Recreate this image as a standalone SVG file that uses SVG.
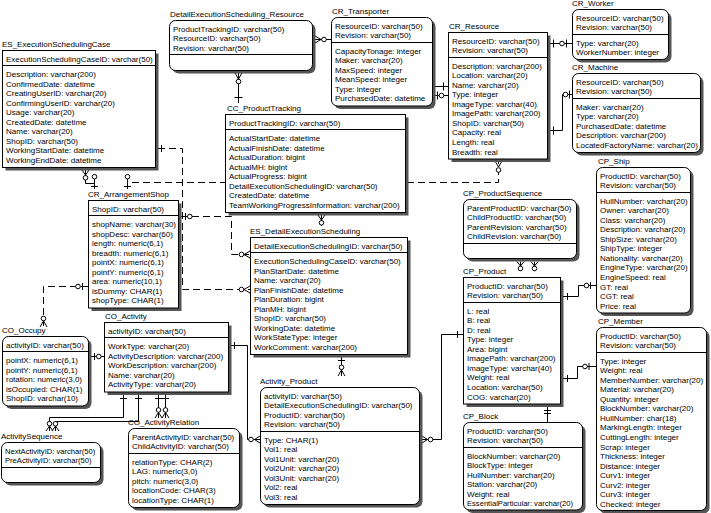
<svg xmlns="http://www.w3.org/2000/svg" width="711" height="513" viewBox="0 0 711 513">
<style>
text{font-family:"Liberation Sans",Arial,sans-serif;font-size:8px;fill:#000}
.bx{fill:#fff;stroke:#000;stroke-width:1}
.sh{fill:#555}
.sp{stroke:#000;stroke-width:1}
.ln{fill:none;stroke:#000;stroke-width:1}
.ds{stroke-dasharray:7,4}
.ci{fill:#fff;stroke:#000;stroke-width:1}
.sm{font-size:7.6px}
</style>
<rect width="711" height="513" fill="#fff"/>

<g id="connectors">
  <!-- DetailExecutionScheduling_Resource to CR_Resource -->
  <path class="ln" d="M315,39.5 H390 V86.5 H448 M315,36 L321,39.5 L315,43 M443.5,82.5 V90.5"/>
  <circle class="ci" cx="324" cy="39.5" r="2.3"/>
  <!-- CR_Transporter to CR_Resource -->
  <path class="ln" d="M435,95.5 H448 M437.5,91.5 V99.5"/>
  <circle class="ci" cx="441.5" cy="95.5" r="2.3"/>
  <!-- DetailExecutionScheduling_Resource to CC_ProductTracking -->
  <path class="ln" d="M238.5,73 V103 M235,73 L238.5,79 L242,73 M234.5,97.5 H242.5"/>
  <circle class="ci" cx="238.5" cy="81.5" r="2.3"/>
  <!-- CR_Resource to CR_Worker -->
  <path class="ln" d="M550,43.5 H572 M553.5,39.5 V47.5 M566.5,39.5 V47.5"/>
  <circle class="ci" cx="562" cy="43.5" r="2.3"/>
  <!-- CR_Resource to CR_Machine -->
  <path class="ln" d="M550,130.5 H562.5 V94.5 H572 M553.5,126.5 V134.5 M569.5,90.5 V98.5"/>
  <circle class="ci" cx="565.5" cy="94.5" r="2.3"/>
  <!-- CR_ArrangementShop to CR_Resource -->
  <path class="ln ds" d="M127.5,189 V182.5 H498.5 V161"/>
  <path class="ln" d="M495,161 L498.5,167 L502,161 M127.5,179 V182.5 M124,186.5 H131"/>
  <circle class="ci" cx="498.5" cy="170" r="2.3"/>
  <circle class="ci" cx="127.5" cy="176.7" r="2.3"/>
  <!-- CR_ArrangementShop to ES_ExecutionSchedulingCase -->
  <path class="ln" d="M85.5,170 V183.5 H94.5 V189 M82,170 L85.5,175 L89,170 M94.5,179 V183.5 M91,186.5 H98"/>
  <circle class="ci" cx="85.5" cy="177.8" r="2.3"/>
  <circle class="ci" cx="94.5" cy="176.7" r="2.3"/>
  <!-- CR_ArrangementShop to ES_DetailExecutionScheduling -->
  <path class="ln ds" d="M181,216.5 H231.5 V254.5 H250"/>
  <path class="ln" d="M185.5,213 V220 M250,251 L244,254.5 L250,258"/>
  <circle class="ci" cx="189.8" cy="216.5" r="2.3"/>
  <circle class="ci" cx="241.5" cy="254.5" r="2.3"/>
  <!-- ES_ExecutionSchedulingCase to ES_DetailExecutionScheduling -->
  <path class="ln ds" d="M158,148.5 H182.5 V289.5 H250"/>
  <path class="ln" d="M161.5,145 V152 M250,286 L244,289.5 L250,293"/>
  <circle class="ci" cx="241.5" cy="289.5" r="2.3"/>
  <!-- ES_DetailExecutionScheduling to CC_ProductTracking -->
  <path class="ln" d="M321.5,215 V226 M318,215 L321.5,220 L325,215"/>
  <circle class="ci" cx="321.5" cy="222.8" r="2.3"/>
  <!-- ES_DetailExecutionScheduling to Activity_Product -->
  <path class="ln" d="M341.5,357 V376 M338,360.5 H345 M338,376 L341.5,370 L345,376"/>
  <circle class="ci" cx="341.5" cy="367.3" r="2.3"/>
  <!-- CO_Activity to Activity_Product -->
  <path class="ln" d="M231,345.5 H247.5 V439.5 H260 M234.5,342 V349 M260,436 L254.5,439.5 L260,443"/>
  <circle class="ci" cx="251" cy="439.5" r="2.3"/>
  <!-- CP_Product to Activity_Product -->
  <path class="ln" d="M422,439.5 H441.5 V334.5 H463 M422,436 L427.5,439.5 L422,443 M457.5,331 V338"/>
  <circle class="ci" cx="430.5" cy="439.5" r="2.3"/>
  <!-- CP_Product to CP_ProductSequence -->
  <path class="ln" d="M520.5,261.5 V271 M517,261.5 L520.5,266 L524,261.5 M534.5,261.5 V271 M531,261.5 L534.5,266 L538,261.5"/>
  <circle class="ci" cx="520.5" cy="268.5" r="2.3"/>
  <circle class="ci" cx="534.5" cy="268.5" r="2.3"/>
  <!-- CP_Product to CP_Ship -->
  <path class="ln" d="M563,296.5 H578.5 V285.5 H596 M567.5,293 V300 M590.5,282 V289"/>
  <circle class="ci" cx="586.5" cy="285.5" r="2.3"/>
  <!-- CP_Product to CP_Member -->
  <path class="ln" d="M563,378.5 H577.5 V366.5 H596 M567.5,375 V382 M589,363 V370"/>
  <circle class="ci" cx="585" cy="366.5" r="2.3"/>
  <!-- CP_Product to CP_Block -->
  <path class="ln" d="M547.5,406.5 V422 M544,410.5 H551 M544,413.5 H551"/>
  <!-- CR_ArrangementShop to CO_Occupy -->
  <path class="ln ds" d="M88,286.5 H43.5 V327"/>
  <path class="ln" d="M82.5,283 V290 M40,327 L43.5,321 L47,327"/>
  <circle class="ci" cx="78" cy="286.5" r="2.3"/>
  <circle class="ci" cx="43.5" cy="318.5" r="2.3"/>
  <!-- CO_Activity to CO_Occupy -->
  <path class="ln" d="M91,356.5 H104 M94.5,353 V360"/>
  <circle class="ci" cx="98.8" cy="356.5" r="2.3"/>
  <!-- CO_Activity to ActivitySequence -->
  <path class="ln" d="M123.5,394.5 V417.5 H49.5 V431 M120,398.5 H127 M46,431 L49.5,426 L53,431"/>
  <path class="ln" d="M138.5,394.5 V421.5 H55.5 V431 M135,398.5 H142 M52,431 L55.5,426 L59,431"/>
  <circle class="ci" cx="49.5" cy="423.6" r="2.3"/>
  <circle class="ci" cx="55.5" cy="423.8" r="2.3"/>
  <!-- CO_Activity to CO_ActivityRelation -->
  <path class="ln" d="M158.5,394.5 V418 M155,398.5 H162 M155,418 L158.5,412.5 L162,418"/>
  <path class="ln" d="M165.5,394.5 V418 M162,398.5 H169 M162,418 L165.5,412.5 L169,418"/>
  <circle class="ci" cx="158.5" cy="410" r="2.3"/>
  <circle class="ci" cx="165.5" cy="410" r="2.3"/>
</g>

<g id="ES_ExecutionSchedulingCase" transform="translate(2,50)">
  <text x="0" y="-3">ES_ExecutionSchedulingCase</text>
  <rect class="sh" x="3.5" y="3.5" width="153" height="117"/>
  <rect class="bx" x="0.5" y="0.5" width="153" height="117"/>
  <line class="sp" x1="0.5" y1="15.5" x2="153.5" y2="15.5"/>
  <text x="4" y="11.5">ExecutionSchedulingCaseID: varchar(50)</text>
  <text x="4" y="27.05">Description: varchar(200)</text>
  <text x="4" y="36.6">ConfirmedDate: datetime</text>
  <text x="4" y="46.15">CreatingUserID: varchar(20)</text>
  <text x="4" y="55.7">ConfirmingUserID: varchar(20)</text>
  <text x="4" y="65.25">Usage: varchar(20)</text>
  <text x="4" y="74.8">CreatedDate: datetime</text>
  <text x="4" y="84.35">Name: varchar(20)</text>
  <text x="4" y="93.9">ShopID: varchar(50)</text>
  <text x="4" y="103.45">WorkingStartDate: datetime</text>
  <text x="4" y="113">WorkingEndDate: datetime</text>
</g>

<g id="DetailExecutionScheduling_Resource" transform="translate(169,20)">
  <text x="1" y="-3">DetailExecutionScheduling_Resource</text>
  <rect class="sh" x="3.5" y="3.5" width="143" height="50" rx="6"/>
  <rect class="bx" x="0.5" y="0.5" width="143" height="50" rx="6"/>
  <line class="sp" x1="0.5" y1="34.5" x2="143.5" y2="34.5"/>
  <text x="4" y="11.5">ProductTrackingID: varchar(50)</text>
  <text x="4" y="21.05">ResourceID: varchar(50)</text>
  <text x="4" y="30.6">Revision: varchar(50)</text>
</g>

<g id="CR_Transporter" transform="translate(331,17)">
  <text x="1" y="-3">CR_Transporter</text>
  <rect class="sh" x="3.5" y="3.5" width="101" height="88.5" rx="6"/>
  <rect class="bx" x="0.5" y="0.5" width="101" height="88.5" rx="6"/>
  <line class="sp" x1="0.5" y1="25.5" x2="101.5" y2="25.5"/>
  <text x="4" y="11.5">ResourceID: varchar(50)</text>
  <text x="4" y="21.05">Revision: varchar(50)</text>
  <text x="4" y="36.6">CapacityTonage: integer</text>
  <text x="4" y="46.15">Maker: varchar(20)</text>
  <text x="4" y="55.7">MaxSpeed: integer</text>
  <text x="4" y="65.25">MeanSpeed: integer</text>
  <text x="4" y="74.8">Type: integer</text>
  <text x="4" y="84.35">PurchasedDate: datetime</text>
</g>

<g id="CR_Resource" transform="translate(448,32)">
  <text x="1" y="-3">CR_Resource</text>
  <rect class="sh" x="3.5" y="3.5" width="99" height="126.5"/>
  <rect class="bx" x="0.5" y="0.5" width="99" height="126.5"/>
  <line class="sp" x1="0.5" y1="25.5" x2="99.5" y2="25.5"/>
  <text x="4" y="11.5">ResourceID: varchar(50)</text>
  <text x="4" y="21.05">Revision: varchar(50)</text>
  <text x="4" y="36.6">Description: varchar(200)</text>
  <text x="4" y="46.15">Location: varchar(20)</text>
  <text x="4" y="55.7">Name: varchar(20)</text>
  <text x="4" y="65.25">Type: integer</text>
  <text x="4" y="74.8">ImageType: varchar(40)</text>
  <text x="4" y="84.35">ImagePath: varchar(200)</text>
  <text x="4" y="93.9">ShopID: varchar(50)</text>
  <text x="4" y="103.45">Capacity: real</text>
  <text x="4" y="113">Length: real</text>
  <text x="4" y="122.55">Breadth: real</text>
</g>

<g id="CR_Worker" transform="translate(572,9)">
  <text x="0" y="-3">CR_Worker</text>
  <rect class="sh" x="3.5" y="3.5" width="96" height="50" rx="6"/>
  <rect class="bx" x="0.5" y="0.5" width="96" height="50" rx="6"/>
  <line class="sp" x1="0.5" y1="25.5" x2="96.5" y2="25.5"/>
  <text x="4" y="11.5">ResourceID: varchar(50)</text>
  <text x="4" y="21.05">Revision: varchar(50)</text>
  <text x="4" y="36.6">Type: varchar(20)</text>
  <text x="4" y="46.15">WorkerNumber: integer</text>
</g>

<g id="CR_Machine" transform="translate(572,73)">
  <text x="0" y="-3">CR_Machine</text>
  <rect class="sh" x="3.5" y="3.5" width="128" height="79" rx="6"/>
  <rect class="bx" x="0.5" y="0.5" width="128" height="79" rx="6"/>
  <line class="sp" x1="0.5" y1="25.5" x2="128.5" y2="25.5"/>
  <text x="4" y="11.5">ResourceID: varchar(50)</text>
  <text x="4" y="21.05">Revision: varchar(50)</text>
  <text x="4" y="36.6">Maker: varchar(20)</text>
  <text x="4" y="46.15">Type: varchar(20)</text>
  <text x="4" y="55.7">PurchasedDate: datetime</text>
  <text x="4" y="65.25">Description: varchar(200)</text>
  <text x="4" y="74.8">LocatedFactoryName: varchar(20)</text>
</g>

<g id="CC_ProductTracking" transform="translate(225,114)">
  <text x="2" y="-3">CC_ProductTracking</text>
  <rect class="sh" x="3.5" y="3.5" width="180" height="98"/>
  <rect class="bx" x="0.5" y="0.5" width="180" height="98"/>
  <line class="sp" x1="0.5" y1="15.5" x2="180.5" y2="15.5"/>
  <text x="4" y="11.5">ProductTrackingID: varchar(50)</text>
  <text x="4" y="27.05">ActualStartDate: datetime</text>
  <text x="4" y="36.6">ActualFinishDate: datetime</text>
  <text x="4" y="46.15">ActualDuration: bigint</text>
  <text x="4" y="55.7">ActualMH: bigint</text>
  <text x="4" y="65.25">ActualProgress: bigint</text>
  <text x="4" y="74.8">DetailExecutionSchedulingID: varchar(50)</text>
  <text x="4" y="84.35">CreatedDate: datetime</text>
  <text x="4" y="93.9">TeamWorkingProgressInformation: varchar(200)</text>
</g>

<g id="CR_ArrangementShop" transform="translate(88,200)">
  <text x="0" y="-3">CR_ArrangementShop</text>
  <rect class="sh" x="3.5" y="3.5" width="90" height="107.5"/>
  <rect class="bx" x="0.5" y="0.5" width="90" height="107.5"/>
  <line class="sp" x1="0.5" y1="15.5" x2="90.5" y2="15.5"/>
  <text x="4" y="11.5">ShopID: varchar(50)</text>
  <text x="4" y="27.05">shopName: varchar(30)</text>
  <text x="4" y="36.6">shopDesc: varchar(60)</text>
  <text x="4" y="46.15">length: numeric(6,1)</text>
  <text x="4" y="55.7">breadth: numeric(6,1)</text>
  <text x="4" y="65.25">pointX: numeric(6,1)</text>
  <text x="4" y="74.8">pointY: numeric(6,1)</text>
  <text x="4" y="84.35">area: numeric(10,1)</text>
  <text x="4" y="93.9">isDummy: CHAR(1)</text>
  <text x="4" y="103.45">shopType: CHAR(1)</text>
</g>

<g id="ES_DetailExecutionScheduling" transform="translate(250,237)">
  <text x="0" y="-3">ES_DetailExecutionScheduling</text>
  <rect class="sh" x="3.5" y="3.5" width="157" height="117"/>
  <rect class="bx" x="0.5" y="0.5" width="157" height="117"/>
  <line class="sp" x1="0.5" y1="15.5" x2="157.5" y2="15.5"/>
  <text x="4" y="11.5">DetailExecutionSchedulingID: varchar(50)</text>
  <text x="4" y="27.05">ExecutionSchedulingCaseID: varchar(50)</text>
  <text x="4" y="36.6">PlanStartDate: datetime</text>
  <text x="4" y="46.15">Name: varchar(20)</text>
  <text x="4" y="55.7">PlanFinishDate: datetime</text>
  <text x="4" y="65.25">PlanDuration: bigint</text>
  <text x="4" y="74.8">PlanMH: bigint</text>
  <text x="4" y="84.35">ShopID: varchar(50)</text>
  <text x="4" y="93.9">WorkingDate: datetime</text>
  <text x="4" y="103.45">WorkStateType: integer</text>
  <text x="4" y="113">WorkComment: varchar(200)</text>
</g>

<g id="CP_ProductSequence" transform="translate(463,199)">
  <text x="0" y="-3">CP_ProductSequence</text>
  <rect class="sh" x="3.5" y="3.5" width="113" height="59" rx="6"/>
  <rect class="bx" x="0.5" y="0.5" width="113" height="59" rx="6"/>
  <line class="sp" x1="0.5" y1="44.5" x2="113.5" y2="44.5"/>
  <text x="4" y="11.5">ParentProductID: varchar(50)</text>
  <text x="4" y="21.05">ChildProductID: varchar(50)</text>
  <text x="4" y="30.6">ParentRevision: varchar(50)</text>
  <text x="4" y="40.15">ChildRevision: varchar(50)</text>
</g>

<g id="CP_Product" transform="translate(463,277)">
  <text x="0" y="-3">CP_Product</text>
  <rect class="sh" x="3.5" y="3.5" width="97" height="126.5"/>
  <rect class="bx" x="0.5" y="0.5" width="97" height="126.5"/>
  <line class="sp" x1="0.5" y1="25.5" x2="97.5" y2="25.5"/>
  <text x="4" y="11.5">ProductID: varchar(50)</text>
  <text x="4" y="21.05">Revision: varchar(50)</text>
  <text x="4" y="36.6">L: real</text>
  <text x="4" y="46.15">B: real</text>
  <text x="4" y="55.7">D: real</text>
  <text x="4" y="65.25">Type: integer</text>
  <text x="4" y="74.8">Area: bigint</text>
  <text x="4" y="84.35">ImagePath: varchar(200)</text>
  <text x="4" y="93.9">ImageType: varchar(40)</text>
  <text x="4" y="103.45">Weight: real</text>
  <text x="4" y="113">Location: varchar(50)</text>
  <text x="4" y="122.55">COG: varchar(20)</text>
</g>

<g id="CP_Ship" transform="translate(596,167)">
  <text x="2" y="-3">CP_Ship</text>
  <rect class="sh" x="3.5" y="3.5" width="94" height="145.5" rx="6"/>
  <rect class="bx" x="0.5" y="0.5" width="94" height="145.5" rx="6"/>
  <line class="sp" x1="0.5" y1="25.5" x2="94.5" y2="25.5"/>
  <text x="4" y="11.5">ProductID: varchar(50)</text>
  <text x="4" y="21.05">Revision: varchar(50)</text>
  <text x="4" y="36.6">HullNumber: varchar(20)</text>
  <text x="4" y="46.15">Owner: varchar(20)</text>
  <text x="4" y="55.7">Class: varchar(20)</text>
  <text x="4" y="65.25">Description: varchar(20)</text>
  <text x="4" y="74.8">ShipSize: varchar(20)</text>
  <text x="4" y="84.35">ShipType: integer</text>
  <text x="4" y="93.9">Nationality: varchar(20)</text>
  <text x="4" y="103.45">EngineType: varchar(20)</text>
  <text x="4" y="113">EngineSpeed: real</text>
  <text x="4" y="122.55">GT: real</text>
  <text x="4" y="132.1">CGT: real</text>
  <text x="4" y="141.65">Price: real</text>
</g>

<g id="CP_Member" transform="translate(596,327)">
  <text x="2" y="-3">CP_Member</text>
  <rect class="sh" x="3.5" y="3.5" width="110" height="183" rx="6"/>
  <rect class="bx" x="0.5" y="0.5" width="110" height="183" rx="6"/>
  <line class="sp" x1="0.5" y1="25.5" x2="110.5" y2="25.5"/>
  <text x="4" y="11.5">ProductID: varchar(50)</text>
  <text x="4" y="21.05">Revision: varchar(50)</text>
  <text x="4" y="36.6">Type: integer</text>
  <text x="4" y="46.15">Weight: real</text>
  <text x="4" y="55.7">MemberNumber: varchar(20)</text>
  <text x="4" y="65.25">Material: varchar(20)</text>
  <text x="4" y="74.8">Quantity: integer</text>
  <text x="4" y="84.35">BlockNumber: varchar(20)</text>
  <text x="4" y="93.9">HullNumber: char(18)</text>
  <text x="4" y="103.45">MarkingLength: integer</text>
  <text x="4" y="113">CuttingLength: integer</text>
  <text x="4" y="122.55">Scrap: integer</text>
  <text x="4" y="132.1">Thickness: integer</text>
  <text x="4" y="141.65">Distance: integer</text>
  <text x="4" y="151.2">Curv1: integer</text>
  <text x="4" y="160.75">Curv2: integer</text>
  <text x="4" y="170.3">Curv3: integer</text>
  <text x="4" y="179.85">Checked: integer</text>
</g>

<g id="CP_Block" transform="translate(463,422)">
  <text x="0" y="-3">CP_Block</text>
  <rect class="sh" x="3.5" y="3.5" width="119" height="87.5" rx="6"/>
  <rect class="bx" x="0.5" y="0.5" width="119" height="87.5" rx="6"/>
  <line class="sp" x1="0.5" y1="25.5" x2="119.5" y2="25.5"/>
  <text x="4" y="11.5">ProductID: varchar(50)</text>
  <text x="4" y="21.05">Revision: varchar(50)</text>
  <text x="4" y="36.6">BlockNumber: varchar(20)</text>
  <text x="4" y="46.15">BlockType: integer</text>
  <text x="4" y="55.7">HullNumber: varchar(20)</text>
  <text x="4" y="65.25">Station: varchar(20)</text>
  <text x="4" y="74.8">Weight: real</text>
  <text x="4" y="84.35" class="sm">EssentialParticular: varchar(20)</text>
</g>

<g id="CO_Activity" transform="translate(104,322)">
  <text x="1" y="-3">CO_Activity</text>
  <rect class="sh" x="3.5" y="3.5" width="124" height="69.5"/>
  <rect class="bx" x="0.5" y="0.5" width="124" height="69.5"/>
  <line class="sp" x1="0.5" y1="15.5" x2="124.5" y2="15.5"/>
  <text x="4" y="11.5">activityID: varchar(50)</text>
  <text x="4" y="27.05">WorkType: varchar(20)</text>
  <text x="4" y="36.6">ActivityDescription: varchar(200)</text>
  <text x="4" y="46.15">WorkDescription: varchar(200)</text>
  <text x="4" y="55.7">Name: varchar(20)</text>
  <text x="4" y="65.25">ActivityType: varchar(20)</text>
</g>

<g id="CO_Occupy" transform="translate(2,336)">
  <text x="0" y="-3">CO_Occupy</text>
  <rect class="sh" x="3.5" y="3.5" width="86" height="69.5" rx="6"/>
  <rect class="bx" x="0.5" y="0.5" width="86" height="69.5" rx="6"/>
  <line class="sp" x1="0.5" y1="15.5" x2="86.5" y2="15.5"/>
  <text x="4" y="11.5">activityID: varchar(50)</text>
  <text x="4" y="27.05">pointX: numeric(6,1)</text>
  <text x="4" y="36.6">pointY: numeric(6,1)</text>
  <text x="4" y="46.15">rotation: numeric(3,0)</text>
  <text x="4" y="55.7">isOccupied: CHAR(1)</text>
  <text x="4" y="65.25">ShopID: varchar(10)</text>
</g>

<g id="ActivitySequence" transform="translate(1,442)">
  <text x="0" y="-3">ActivitySequence</text>
  <rect class="sh" x="3.5" y="3.5" width="99" height="40" rx="6"/>
  <rect class="bx" x="0.5" y="0.5" width="99" height="40" rx="6"/>
  <line class="sp" x1="0.5" y1="25.5" x2="99.5" y2="25.5"/>
  <text x="4" y="11.5" class="sm">NextActivityID: varchar(50)</text>
  <text x="4" y="21.05" class="sm">PreActivityID: varchar(50)</text>
</g>

<g id="CO_ActivityRelation" transform="translate(128,428)">
  <text x="0" y="-3">CO_ActivityRelation</text>
  <rect class="sh" x="3.5" y="3.5" width="111" height="79" rx="6"/>
  <rect class="bx" x="0.5" y="0.5" width="111" height="79" rx="6"/>
  <line class="sp" x1="0.5" y1="25.5" x2="111.5" y2="25.5"/>
  <text x="4" y="11.5">ParentActivityID: varchar(50)</text>
  <text x="4" y="21.05">ChildActivityID: varchar(50)</text>
  <text x="4" y="36.6">relationType: CHAR(2)</text>
  <text x="4" y="46.15">LAG: numeric(3,0)</text>
  <text x="4" y="55.7">pitch: numeric(3,0)</text>
  <text x="4" y="65.25">locationCode: CHAR(3)</text>
  <text x="4" y="74.8">locationType: CHAR(1)</text>
</g>

<g id="Activity_Product" transform="translate(260,387)">
  <text x="0" y="-3">Activity_Product</text>
  <rect class="sh" x="3.5" y="3.5" width="159" height="117" rx="6"/>
  <rect class="bx" x="0.5" y="0.5" width="159" height="117" rx="6"/>
  <line class="sp" x1="0.5" y1="44.5" x2="159.5" y2="44.5"/>
  <text x="4" y="11.5">activityID: varchar(50)</text>
  <text x="4" y="21.05">DetailExecutionSchedulingID: varchar(50)</text>
  <text x="4" y="30.6">ProductID: varchar(50)</text>
  <text x="4" y="40.15">Revision: varchar(50)</text>
  <text x="4" y="55.7">Type: CHAR(1)</text>
  <text x="4" y="65.25">Vol1: real</text>
  <text x="4" y="74.8">Vol1Unit: varchar(20)</text>
  <text x="4" y="84.35">Vol2Unit: varchar(20)</text>
  <text x="4" y="93.9">Vol3Unit: varchar(20)</text>
  <text x="4" y="103.45">Vol2: real</text>
  <text x="4" y="113">Vol3: real</text>
</g>
</svg>
